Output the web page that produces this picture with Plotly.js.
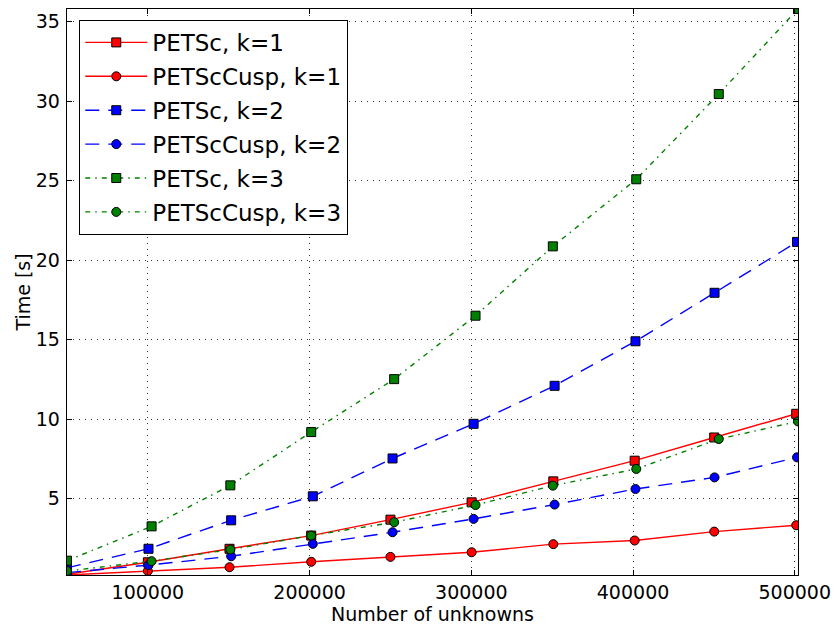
<!DOCTYPE html>
<html>
<head>
<meta charset="utf-8">
<script src="https://cdn.plot.ly/plotly-3.0.1.min.js"></script>
<style>html,body{margin:0;padding:0;background:#fff;}#chart{width:836px;height:627px;}</style>
</head>
<body>
<div id="chart"></div>
<script>
// Number of unknowns per series
const xK1 = [50000, 100000, 150500, 201000, 250000, 300200, 350700, 401000, 450200, 500900];
const xK2 = [50000, 100400, 151500, 202000, 251300, 301400, 351500, 401500, 450400, 501400];
const xK3 = [50000, 102300, 151000, 201000, 252300, 302600, 350400, 402000, 453000, 502000];

// Times [s]
const petscK1 = [0.25, 1.0, 1.85, 2.68, 3.68, 4.77, 6.09, 7.39, 8.85, 10.34];
const cuspK1  = [0.2, 0.45, 0.69, 1.03, 1.34, 1.63, 2.14, 2.37, 2.93, 3.33];
const petscK2 = [0.65, 1.85, 3.64, 5.15, 7.53, 9.71, 12.1, 14.9, 17.95, 21.15];
const cuspK2  = [0.35, 0.82, 1.38, 2.16, 2.89, 3.73, 4.63, 5.61, 6.34, 7.6];
const petscK3 = [1.1, 3.26, 5.84, 9.19, 12.52, 16.51, 20.87, 25.09, 30.45, 35.8];
const cuspK3  = [0.45, 1.07, 1.8, 2.68, 3.52, 4.6, 5.82, 6.87, 8.75, 9.86];

const seriesNames = ["PETSc, k=1", "PETScCusp, k=1", "PETSc, k=2", "PETScCusp, k=2", "PETSc, k=3", "PETScCusp, k=3"];
const xTicks = [100000, 200000, 300000, 400000, 500000];
const yTicks = [5, 10, 15, 20, 25, 30, 35];

const RED = "#ff0000", BLUE = "#0000ff", GREEN = "#008000";
const DASH = "14px,9px";
const DASHDOT = "5px,5px,1.5px,5px";

function tr(x, y, name, color, dash, symbol, i) {
  return {
    type: "scatter", mode: "lines+markers", x: x, y: y, name: name,
    legendgroup: "g" + i,
    line: {color: color, width: 1.4, dash: dash},
    marker: {symbol: symbol, size: 9, color: color, line: {color: "#000", width: 1}},
    cliponaxis: true
  };
}

const data = [
  tr(xK1, petscK1, seriesNames[0], RED, "solid", "square", 0),
  tr(xK1, cuspK1, seriesNames[1], RED, "solid", "circle", 1),
  tr(xK2, petscK2, seriesNames[2], BLUE, DASH, "square", 2),
  tr(xK2, cuspK2, seriesNames[3], BLUE, DASH, "circle", 3),
  tr(xK3, petscK3, seriesNames[4], GREEN, DASHDOT, "square", 4),
  tr(xK3, cuspK3, seriesNames[5], GREEN, DASHDOT, "circle", 5)
];

const font = {family: "DejaVu Sans, sans-serif", size: 19, color: "#000"};
const legendFont = {family: "DejaVu Sans, sans-serif", size: 23, color: "#000"};

const layout = {
  width: 836, height: 627,
  margin: {l: 67, r: 38, t: 9, b: 52},
  paper_bgcolor: "#fff", plot_bgcolor: "#fff",
  font: font,
  showlegend: true,
  legend: {
    x: 0.0165, y: 0.981, xanchor: "left", yanchor: "top",
    bgcolor: "#fff", bordercolor: "#000", borderwidth: 1.2,
    font: legendFont, traceorder: "grouped", tracegroupgap: 1, itemwidth: 62
  },
  xaxis: {
    range: [50000, 502000],
    tickvals: xTicks, ticktext: xTicks.map(String),
    ticks: "inside", ticklen: 5, tickwidth: 1, tickcolor: "#000",
    showline: true, linecolor: "#000", linewidth: 1.3, mirror: "allticks",
    showgrid: true, gridcolor: "#000", gridwidth: 0.8, griddash: "1px,5px",
    zeroline: false, tickfont: font,
    title: {text: "Number of unknowns", font: font, standoff: 2}
  },
  yaxis: {
    range: [0.2, 35.8],
    tickvals: yTicks, ticktext: yTicks.map(String),
    ticks: "inside", ticklen: 5, tickwidth: 1, tickcolor: "#000",
    showline: true, linecolor: "#000", linewidth: 1.3, mirror: "allticks",
    showgrid: true, gridcolor: "#000", gridwidth: 0.8, griddash: "1px,5px",
    zeroline: false, tickfont: font, ticklabelstandoff: 2,
    title: {text: "Time [s]", font: font, standoff: 0}
  }
};

Plotly.newPlot("chart", data, layout, {displayModeBar: false, staticPlot: true});
</script>
</body>
</html>
